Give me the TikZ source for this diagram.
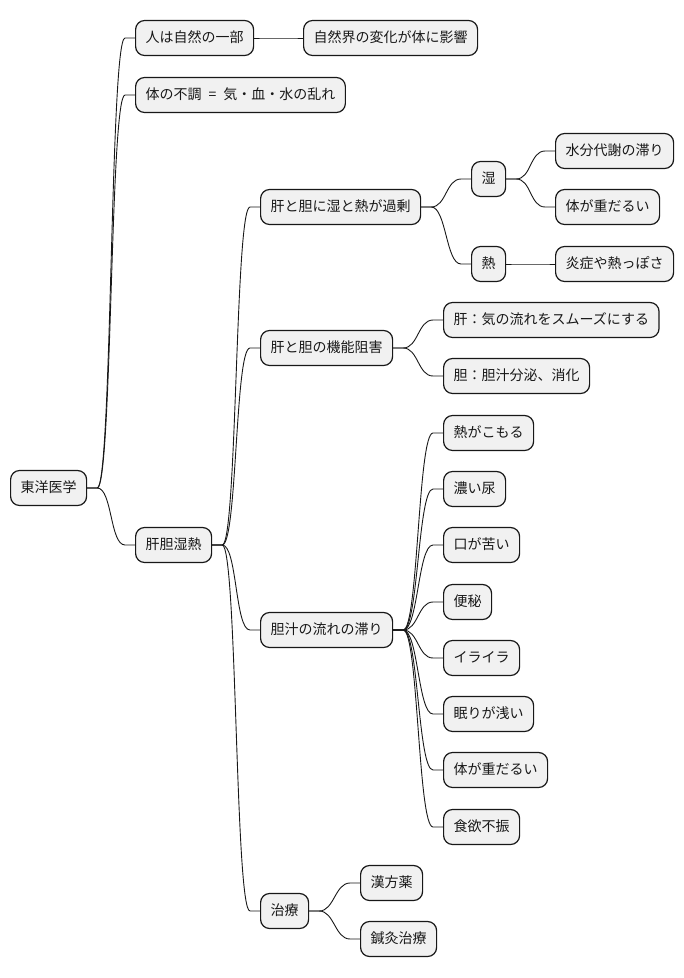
\documentclass[tikz,border=0pt]{standalone}
\usepackage{fontspec}
\setmainfont{Noto Sans CJK JP}
\definecolor{linea}{HTML}{181818}
\definecolor{fondo}{HTML}{F1F1F1}

\begin{document}
\begin{tikzpicture}[x=1pt, y=1pt,
  hako/.style={draw=linea, line width=1.2pt, rounded corners=9pt, fill=fondo, anchor=west,
               minimum height=35pt, inner xsep=10pt, text=linea,
               font=\fontsize{14pt}{16pt}\selectfont, text height=11pt, text depth=2pt},
  eda/.style={draw=linea, line width=0.9pt}]
\useasboundingbox (0,0) rectangle (684,-978);
\node[hako] (root)    at (10,-488)  {東洋医学};
\node[hako] (shizen)  at (135,-38)  {人は自然の一部};
\node[hako] (eikyo)   at (303,-38)  {自然界の変化が体に影響};
\node[hako] (fucho)   at (135,-95)  {体の不調\hspace{7pt}=\hspace{7pt}気・血・水の乱れ};
\node[hako] (kantan)  at (135,-545) {肝胆湿熱};
\node[hako] (kajo)    at (260,-207) {肝と胆に湿と熱が過剰};
\node[hako] (shitsu)  at (471,-179) {湿};
\node[hako] (suibun)  at (555,-151) {水分代謝の滞り};
\node[hako] (omoi)    at (555,-207) {体が重だるい};
\node[hako] (netsu)   at (471,-264) {熱};
\node[hako] (ensho)   at (555,-264) {炎症や熱っぽさ};
\node[hako] (kino)    at (260,-348) {肝と胆の機能阻害};
\node[hako] (kan)     at (443,-320) {肝：気の流れをスムーズにする};
\node[hako] (tan)     at (443,-376) {胆：胆汁分泌、消化};
\node[hako] (tanju)   at (260,-630) {胆汁の流れの滞り};
\node[hako] (s1)      at (443,-433) {熱がこもる};
\node[hako] (s2)      at (443,-489) {濃い尿};
\node[hako] (s3)      at (443,-545) {口が苦い};
\node[hako] (s4)      at (443,-602) {便秘};
\node[hako] (s5)      at (443,-658) {イライラ};
\node[hako] (s6)      at (443,-714) {眠りが浅い};
\node[hako] (s7)      at (443,-770) {体が重だるい};
\node[hako] (s8)      at (443,-827) {食欲不振};
\node[hako] (chiryo)  at (260,-911) {治療};
\node[hako] (kampo)   at (360,-883) {漢方薬};
\node[hako] (shinkyu) at (360,-939) {鍼灸治療};
\foreach \a/\b in {root/shizen, shizen/eikyo, root/fucho, root/kantan,
                   kantan/kajo, kajo/shitsu, shitsu/suibun, shitsu/omoi, kajo/netsu, netsu/ensho,
                   kantan/kino, kino/kan, kino/tan,
                   kantan/tanju, tanju/s1, tanju/s2, tanju/s3, tanju/s4, tanju/s5, tanju/s6, tanju/s7, tanju/s8,
                   kantan/chiryo, chiryo/kampo, chiryo/shinkyu}
  \draw[eda] (\a.east) -- ++(10,0) .. controls +(15,0) and +(-15,0) .. ([xshift=-10pt]\b.west) -- (\b.west);
\end{tikzpicture}
\end{document}
